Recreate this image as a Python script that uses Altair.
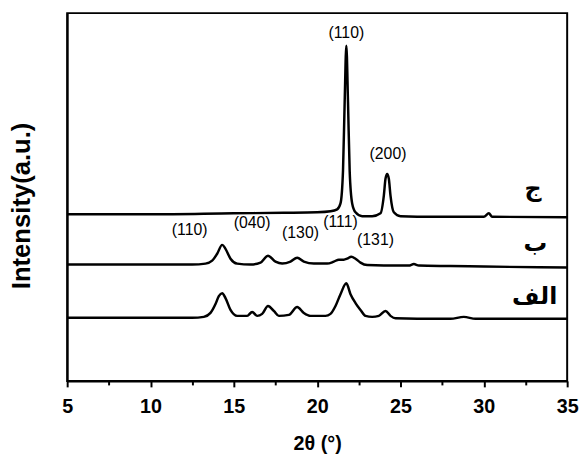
import altair as alt
import pandas as pd

# ---- data (2θ in degrees, intensity in arbitrary units) ----
theta_c = [5.0, 10.0, 15.0, 18.0, 20.0, 20.8, 21.2, 21.4, 21.55, 21.65, 21.75, 21.85, 21.95, 22.1, 22.3,
           22.7, 23.3, 23.8, 24.0, 24.1, 24.2, 24.3, 24.4, 24.6, 25.0, 26.0, 28.0, 30.0, 30.3, 30.5, 35.0]
int_c = [169, 169, 170, 170.5, 171, 172, 174, 180, 213, 283, 340, 283, 213, 180, 171,
         167, 167, 170, 188, 205, 210, 205, 188, 171, 167, 166.5, 166.5, 166.5, 170, 166.5, 166]

theta_b = [5.0, 12.5, 13.3, 13.7, 14.0, 14.3, 14.5, 14.8, 15.2, 16.0, 16.6, 17.05, 17.5, 17.9, 18.4,
           18.8, 19.2, 19.8, 20.6, 21.0, 21.3, 21.6, 21.8, 22.05, 22.3, 22.6, 23.0, 24.0, 25.5, 25.8,
           26.1, 28.0, 30.0, 35.0]
int_b = [118, 118, 119, 122, 129, 138, 134, 124, 119, 118, 120, 127, 121, 119, 121,
         125, 121, 119, 119, 121, 123, 123, 124, 126, 124, 120, 117.5, 117, 117, 118.5,
         117, 116.5, 116, 115]

theta_a = [5.0, 12.5, 13.2, 13.6, 13.9, 14.1, 14.3, 14.5, 14.8, 15.2, 15.8, 16.1, 16.4, 16.7, 17.05,
           17.4, 17.7, 18.3, 18.8, 19.2, 19.6, 20.5, 20.8, 21.1, 21.4, 21.75, 22.0, 22.3, 22.6, 22.9,
           23.3, 23.7, 24.1, 24.4, 24.7, 26.0, 28.0, 28.8, 29.5, 35.0]
int_a = [64, 64, 65, 69, 78, 86, 89, 84, 72, 66, 66, 70, 66, 68, 76,
         71, 66, 67, 75, 69, 66, 66, 68, 76, 88, 99, 88, 79, 72, 66,
         65, 66, 71, 66, 63.5, 63, 63, 65, 63, 63]

peak_text = ["(110)", "(200)", "(110)", "(040)", "(130)", "(111)", "(131)"]
peak_x = [21.75, 24.25, 12.35, 16.1, 19.0, 21.4, 23.5]
peak_y = [353, 230, 153, 160, 150, 161, 143]

sample_text = ["ج", "ب", "الف"]
sample_x = [32.95, 33.1, 33.05]
sample_y = [195, 139, 85]

x_ticks = [5, 7.5, 10, 12.5, 15, 17.5, 20, 22.5, 25, 27.5, 30, 32.5, 35]

# ---- tables ----
df = pd.concat([
    pd.DataFrame({"theta": theta_c, "intensity": int_c, "sample": "c"}),
    pd.DataFrame({"theta": theta_b, "intensity": int_b, "sample": "b"}),
    pd.DataFrame({"theta": theta_a, "intensity": int_a, "sample": "a"}),
], ignore_index=True)
peaks = pd.DataFrame({"theta": peak_x, "intensity": peak_y, "label": peak_text})
samples = pd.DataFrame({"theta": sample_x, "intensity": sample_y, "label": sample_text})

xscale = alt.Scale(domain=[5, 35], nice=False, zero=False)
yscale = alt.Scale(domain=[0, 373], nice=False, zero=False)

lines = alt.Chart(df).mark_line(color="black", strokeWidth=2.5, interpolate="monotone").encode(
    x=alt.X("theta:Q", scale=xscale, axis=alt.Axis(
        values=x_ticks,
        labelExpr="datum.value % 5 === 0 ? datum.label : ''",
        tickSize={"condition": {"test": "datum.value % 5 !== 0", "value": 4}, "value": 6},
        tickWidth=2, tickColor="black", domainWidth=2, domainColor="black",
        labelFont="Liberation Sans", labelFontSize=20, labelFontWeight="bold", labelColor="black",
        labelPadding=10, labelOverlap=False, labelFlush=False, grid=False,
        title="2θ (°)", titleFont="Liberation Sans", titleFontSize=20, titleFontWeight="bold",
        titleColor="black", titlePadding=18)),
    y=alt.Y("intensity:Q", scale=yscale, axis=alt.Axis(
        labels=False, ticks=False, grid=False, domainWidth=2, domainColor="black",
        title="Intensity(a.u.)", titleFont="Liberation Sans", titleFontSize=26,
        titleFontWeight="bold", titleColor="black", titlePadding=33, titleY=195)),
    detail="sample:N",
)

peak_labels = alt.Chart(peaks).mark_text(
    font="Liberation Sans", fontSize=16, color="black", align="center", baseline="middle"
).encode(x=alt.X("theta:Q", scale=xscale), y=alt.Y("intensity:Q", scale=yscale), text="label:N")

sample_labels = alt.Chart(samples).mark_text(
    font="DejaVu Sans", fontSize=24, fontWeight="bold", color="black", align="center", baseline="middle"
).encode(x=alt.X("theta:Q", scale=xscale), y=alt.Y("intensity:Q", scale=yscale), text="label:N")

chart = alt.layer(lines, peak_labels, sample_labels).properties(
    width=507, height=373,
    autosize=alt.AutoSizeParams(type="none"),
    padding={"left": 60, "top": 2, "right": 12, "bottom": 80},
    background="white",
).configure_view(stroke="black", strokeWidth=2)

chart.save("out.html", embed_options={"renderer": "svg", "actions": False})
